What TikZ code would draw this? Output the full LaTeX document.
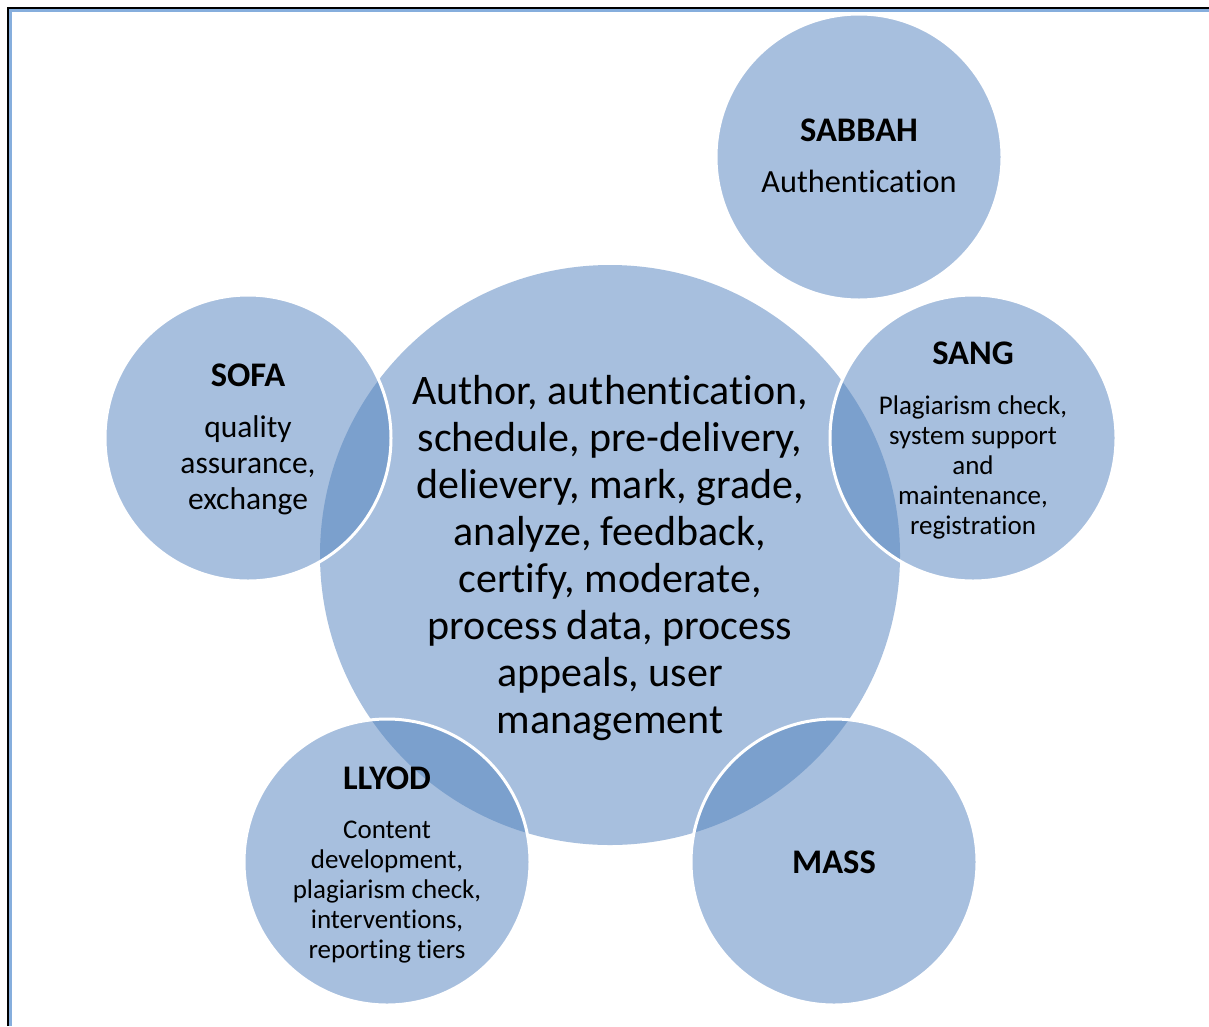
\documentclass[tikz,border=0pt]{standalone}
\usepackage{fontspec}
\setmainfont{Carlito}[Ligatures=NoCommon]
\definecolor{cfill}{HTML}{A7BFDE}
\definecolor{cover}{HTML}{7BA0CD}
\definecolor{cframe}{HTML}{86AEDD}
\begin{document}
\begin{tikzpicture}[x=1pt,y=1pt,
  bigcirc/.style={circle, fill=cfill, minimum size=580pt, inner sep=0pt},
  smallcirc/.style={circle, fill=cfill, minimum size=286pt, inner sep=0pt},
  ring/.style={draw=white, line width=3pt},
  maintext/.style={align=center, font=\fontsize{42}{47}\selectfont, anchor=base},
  titletext/.style={font=\fontsize{34.5}{40}\selectfont\bfseries, anchor=base},
  desctext/.style={align=center, anchor=base}
]
\useasboundingbox (0,0) rectangle (1209,-1026);
\fill[white] (0,0) rectangle (1209,-1026);
% frame
\draw[black, line width=3pt] (8,-1026) -- (8,-8) -- (1209,-8);
\draw[cframe, line width=2.5pt] (10.7,-1026) -- (10.7,-10.7) -- (1209,-10.7);
% circles
\node[bigcirc] (main) at (610,-555) {};
\node[smallcirc] (sabbah) at (859,-157) {};
\node[smallcirc] (sang) at (973,-438) {};
\node[smallcirc] (sofa) at (248,-438) {};
\node[smallcirc] (llyod) at (387,-862) {};
\node[smallcirc] (mass) at (834,-862) {};
\begin{scope}
  \clip (main.center) circle[radius=290pt];
  \fill[cover] (sang.center) circle[radius=143pt];
  \fill[cover] (sofa.center) circle[radius=143pt];
  \fill[cover] (llyod.center) circle[radius=143pt];
  \fill[cover] (mass.center) circle[radius=143pt];
\end{scope}
\draw[ring] (sabbah.center) circle[radius=143pt];
\draw[ring] (sang.center) circle[radius=143pt];
\draw[ring] (sofa.center) circle[radius=143pt];
\draw[ring] (llyod.center) circle[radius=143pt];
\draw[ring] (mass.center) circle[radius=143pt];
% texts (anchor=base is the baseline of the last line)
\node[maintext] (maint) at (610,-733) {Author, authentication,\\schedule, pre-delivery,\\delievery, mark, grade,\\analyze, feedback,\\certify, moderate,\\process data, process\\appeals, user\\management};
\node[titletext] (sabbaht) at (859,-141) {SABBAH};
\node[desctext, font=\fontsize{32.3}{36}\selectfont] (sabbahd) at (859,-192) {Authentication};
\node[titletext] (sangt) at (973,-364) {SANG};
\node[desctext, font=\fontsize{27}{30}\selectfont] (sangd) at (973,-534) {Plagiarism check,\\system support\\and\\maintenance,\\registration};
\node[titletext] (sofat) at (248,-386) {SOFA};
\node[desctext, font=\fontsize{31.5}{36}\selectfont] (sofad) at (248,-509) {quality\\assurance,\\exchange};
\node[titletext] (llyodt) at (387,-789) {LLYOD};
\node[desctext, font=\fontsize{27}{30}\selectfont] (llyodd) at (387,-958) {Content\\development,\\plagiarism check,\\interventions,\\reporting tiers};
\node[titletext] (masst) at (834,-873) {MASS};
\end{tikzpicture}
\end{document}
